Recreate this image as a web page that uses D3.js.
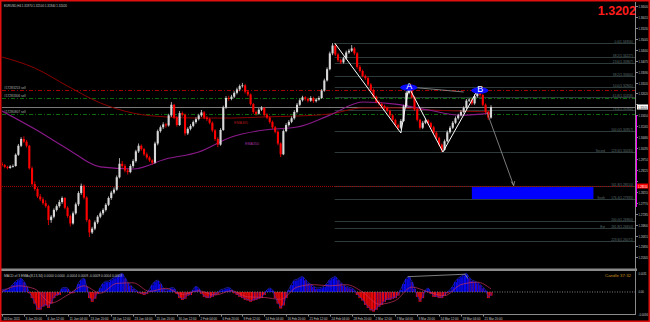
<!DOCTYPE html>
<html>
<head>
<meta charset="utf-8">
<script src="https://cdn.jsdelivr.net/npm/d3@7"></script>
<style>
body { margin: 0; background: #000; }
svg { display: block; }
text { font-family: "Liberation Sans", Arial, sans-serif; }
</style>
</head>
<body>
<svg width="650" height="322"></svg>
<script>
// EURUSD H4, 30 Dec 2011 - 21 Mar 2012. candles: [open, high, low, close] in pips above 1.2500
var BASE = 1.25;
var candles = [
 [450,458,438,444],[444,449,430,436],[436,441,425,431],[431,444,428,438],[438,447,433,440],
 [440,496,437,490],[490,538,485,530],[530,568,524,560],[560,572,542,548],[548,556,522,530],
 [530,534,424,430],[430,438,352,360],[360,372,330,338],[338,346,298,305],[305,316,284,292],
 [292,301,268,275],[275,288,255,262],[262,268,178,200],[200,222,188,215],[215,252,208,245],
 [245,270,238,262],[262,290,255,280],[280,305,272,298],[298,302,248,255],[255,262,210,218],
 [218,225,172,185],[185,238,180,230],[230,278,224,270],[270,328,262,320],[320,362,312,352],
 [352,358,292,300],[300,306,192,200],[200,205,125,145],[145,170,138,162],[162,198,155,190],
 [190,222,182,215],[215,238,208,230],[230,252,222,245],[245,275,238,268],[268,305,262,298],
 [298,330,290,322],[322,345,315,335],[335,398,330,390],[390,475,385,450],[450,462,432,440],
 [440,448,412,420],[420,428,402,413],[413,448,408,440],[440,470,432,462],[462,512,455,505],
 [505,540,498,530],[530,536,508,515],[515,520,485,492],[492,500,470,478],[478,485,458,465],
 [465,470,446,455],[455,548,450,540],[540,602,532,595],[595,620,588,612],[612,634,604,625],
 [625,632,610,620],[620,672,615,665],[665,724,658,712],[712,716,648,655],[655,662,615,622],
 [622,684,618,675],[675,682,660,668],[668,672,575,585],[585,612,578,605],[605,626,598,618],
 [618,642,612,635],[635,656,628,648],[648,672,642,665],[665,689,658,678],[678,684,648,655],
 [655,662,640,648],[648,654,625,632],[632,638,590,598],[598,604,552,560],[560,568,524,535],
 [535,608,530,600],[600,708,596,700],[700,750,694,742],[742,752,730,738],[738,756,732,748],
 [748,772,742,765],[765,788,758,780],[780,802,772,795],[795,809,788,798],[798,804,762,770],
 [770,776,750,758],[758,762,708,715],[715,720,672,680],[680,686,664,672],[672,698,668,690],
 [690,706,684,698],[698,702,660,668],[668,674,648,655],[655,660,628,636],[636,642,605,612],
 [612,618,585,592],[592,598,532,540],[540,545,480,492],[492,602,488,595],[595,630,590,622],
 [622,644,615,636],[636,660,630,652],[652,688,646,680],[680,720,674,712],[712,740,706,732],
 [732,752,726,745],[745,750,730,738],[738,744,722,730],[730,750,725,742],[742,748,720,728],
 [728,742,722,735],[735,750,730,742],[742,782,738,775],[775,828,770,820],[820,878,815,870],
 [870,948,865,940],[940,986,932,975],[975,980,928,935],[935,942,902,910],[910,916,892,900],
 [900,925,895,918],[918,952,912,944],[944,960,938,952],[952,977,946,962],[962,968,932,940],
 [940,946,872,880],[880,888,855,862],[862,868,834,840],[840,846,822,830],[830,836,795,802],
 [802,808,770,778],[778,784,740,748],[748,752,718,725],[725,732,708,715],[715,722,698,706],
 [706,712,690,698],[698,704,678,685],[685,690,658,665],[665,670,638,645],[645,650,615,622],
 [622,628,600,610],[610,648,604,640],[640,712,635,705],[705,772,700,765],[765,791,758,785],
 [785,790,738,745],[745,750,685,692],[692,698,638,645],[645,650,602,610],[610,640,604,632],
 [632,650,626,642],[642,648,622,630],[630,636,605,612],[612,618,580,588],[588,594,558,565],
 [565,570,528,535],[535,540,502,512],[512,558,508,550],[550,598,545,590],[590,618,584,610],
 [610,640,604,632],[632,660,626,652],[652,672,646,665],[665,688,660,680],[680,705,674,698],
 [698,738,692,730],[730,742,724,735],[735,740,710,718],[718,758,712,750],[750,791,744,778],
 [778,784,748,755],[755,760,705,712],[712,718,672,680],[680,686,644,655],[655,710,650,702]
];

// moving averages read every 12 candles: [candle index, pips above 1.2500]
var ema365 = [[0,924],[12,875],[24,795],[36,720],[48,675],[60,658],[72,653],[84,653],
  [96,658],[108,662],[120,671],[132,698],[144,698],[156,689],[168,684],[179,680]];
var ema350 = [[0,684],[12,604],[24,516],[36,436],[48,427],[60,471],[72,502],[84,569],
  [96,600],[108,613],[120,666],[132,724],[144,715],[156,689],[168,666],[179,675]];

// MACD histogram, one value per candle, in units of 0.0001
var macdHist = [
  2,3,3,6,11,16,19,21,16,8, -2,-10,-19,-29,-29,-24,-22,-26,-19,-10,
  -6,-5,5,6,5,-2,-2,3,13,19, 21,8,-10,-16,-11,-3,6,13,16,16,
  19,22,24,27,29,22,14,10,5,2, -2,-3,-5,-3,3,11,16,18,13,5,
  2,3,6,5,-3,-10,-13,-11,-6,-5, 3,8,5,-3,-8,-10,-10,-8,-5,-3,
  2,3,5,6,3,-2,-5,-8,-10,-13, -14,-16,-14,-13,-11,-10,-5,2,5,2,
  -10,-19,-27,-22,-10,3,11,18,19,22, 24,19,14,11,8,5,5,6,8,13,
  19,22,24,19,14,10,8,6,5,2, -5,-10,-14,-21,-26,-30,-32,-29,-24,-21,
  -16,-13,-13,-11,-10,-6,3,13,21,24, 16,5,-8,-16,-10,2,5,-3,-8,-8,
  -10,-10,-6,-2,2,8,16,21,24,27, 29,22,18,16,14,11,6,2,-10,-6
];
// signal line, every 6 candles
var macdSignal = [[0,1],[6,10],[12,5],[18,-18],[24,-5],[30,10],[36,-2],[42,14],[48,15],
  [54,1],[60,6],[66,-4],[72,2],[78,-5],[84,2],[90,-8],[96,-9],[102,-12],[108,8],[114,12],
  [120,10],[126,12],[132,0],[138,-20],[144,-14],[150,8],[156,0],[162,-6],[168,12],[174,16],[179,5]];
var macdDivergence = [[148.5,25],[169.5,29],[170.5,22]];

var priceTicks = [1.36500,1.36015,1.35530,1.35045,1.34560,1.34075,1.33590,1.33105,1.32620,
  1.32135,1.31650,1.31165,1.30680,1.30195,1.29710,1.29225,1.28740,1.28255,1.27770,1.27285,
  1.26800,1.26315,1.25830,1.25345];
var timeLabels = ["30 Dec 2011","3 Jan 20:00","6 Jan 12:00","11 Jan 04:00","13 Jan 20:00",
  "18 Jan 12:00","23 Jan 04:00","25 Jan 20:00","30 Jan 12:00","2 Feb 04:00","6 Feb 20:00",
  "9 Feb 12:00","14 Feb 04:00","16 Feb 20:00","21 Feb 12:00","24 Feb 04:00","28 Feb 20:00",
  "2 Mar 12:00","7 Mar 04:00","9 Mar 20:00","14 Mar 12:00","19 Mar 04:00","21 Mar 20:00"];
var macdTicks = [[31,"0.0031"],[0,"0.00"],[-36,"-0.0036"]];

// fibonacci levels drawn from the 29 Feb high: [text, price, tag]
var fibLevels = [
  ["0.0(1.34856)",1.34856,""],["38.2(1.34227)",1.34227,""],["23.6(1.33967)",1.33967,""],
  ["38.2(1.33400)",1.33400,""],["50.0(1.32905)",1.32905,""],["61.8(1.32458)",1.32458,""],
  ["76.4(1.31900)",1.31900,""],["100.0(1.30957)",1.30957,""],["123.6(1.30035)",1.30035,"Second"],
  ["161.8(1.28510)",1.28510,""],["176.4(1.27935)",1.27935,"South"],["200.0(1.26960)",1.26960,""],
  ["261.8(1.26650)",1.26650,"Ext"],["223.6(1.26072)",1.26072,""]
];
var fibStart = 121.8;
var orderLines = [["#17283253 sell",1.32775,"#a00000"],["#17283306 sell",1.32420,"#0b6b0b"],
  ["#17280807 sell",1.31710,"#0b6b0b"]];
var bid = 1.32020, target = 1.28510;
var zigzag = [[121.8,1.34856],[146,1.30866],[148.9,1.32908],[161.4,1.30022],[174.5,1.32864]];
var abLine = [[148.9,1.32908],[169,1.32686]];
var arrowLine = [[177.5,1.31798],[187.3,1.28530]];
var pointsAB = [["A",148.9,1.32908],["B",174.9,1.32775]];
var targetBox = [172, 216.5, 1.28510, 1.27935];
var rangeBar = [1.31665, 1.27580];
var headerText = "EURUSD,H4  1.31970 1.32100 1.31940 1.32020";
var macdText = "MACD of 3 EMAs(8,13,34) 0.0000 0.0000 -0.0004 0.0009 -0.0009 0.0004 0.0009";

var svg = d3.select("svg");
function pr(v) { return BASE + v / 10000; }
// tiny MT4-like label, squeezed to the width the reference shows
function tiny(sel, s, w) {
  return sel.attr("font-size", 4.3).attr("textLength", w || s.length * 1.55)
    .attr("lengthAdjust", "spacingAndGlyphs").text(s);
}

var x = d3.scaleLinear().domain([0, 179]).range([2, 491]);
var y = d3.scaleLinear().domain([1.24872, 1.36638]).range([268, 3]);
var ym = d3.scaleLinear().domain([-36, 31]).range([314, 273]);

svg.append("defs").append("clipPath").attr("id", "main")
  .append("rect").attr("x", 2).attr("y", 2).attr("width", 634).attr("height", 266);
svg.select("defs").append("clipPath").attr("id", "sub")
  .append("rect").attr("x", 2).attr("y", 272).attr("width", 634).attr("height", 42);

var g = svg.append("g").attr("clip-path", "url(#main)");

// fib levels
fibLevels.forEach(function(f) {
  var yy = Math.round(y(f[1])) + 0.5;
  g.append("line").attr("x1", x(fibStart)).attr("x2", 636).attr("y1", yy).attr("y2", yy)
    .attr("stroke", "#2c3a3a").attr("stroke-width", 1);
  tiny(g.append("text").attr("x", 633).attr("y", yy - 1).attr("text-anchor", "end")
    .attr("fill", "#5f7070"), f[0]);
  if (f[2]) tiny(g.append("text").attr("x", 605).attr("y", yy - 1).attr("text-anchor", "end")
    .attr("fill", "#5f7070"), f[2]);
});

// order lines
orderLines.forEach(function(o) {
  var yy = Math.round(y(o[1])) + 0.5;
  g.append("line").attr("x1", 2).attr("x2", 636).attr("y1", yy).attr("y2", yy)
    .attr("stroke", o[2]).attr("stroke-dasharray", "4,2,1,2");
  tiny(g.append("text").attr("x", 4).attr("y", yy - 1.5).attr("fill", "#b0b0b0"), o[0]);
});

// bid line and target line
g.append("line").attr("x1", 2).attr("x2", 636).attr("y1", Math.round(y(bid)) + 0.5)
  .attr("y2", Math.round(y(bid)) + 0.5).attr("stroke", "#7a7a7a");
g.append("line").attr("x1", 2).attr("x2", 636).attr("y1", Math.round(y(target)) + 0.5)
  .attr("y2", Math.round(y(target)) + 0.5).attr("stroke", "#a00000").attr("stroke-dasharray", "1,1");

// target box
g.append("rect").attr("x", x(targetBox[0])).attr("width", x(targetBox[1]) - x(targetBox[0]))
  .attr("y", y(targetBox[2]) + 1).attr("height", y(targetBox[3]) - y(targetBox[2]) - 1)
  .attr("fill", "#0000ff");

// moving averages
var maLine = d3.line().x(function(d) { return x(d[0]); }).y(function(d) { return y(pr(d[1])); })
  .curve(d3.curveMonotoneX);
g.append("path").attr("d", maLine(ema365)).attr("fill", "none").attr("stroke", "#8b0000").attr("stroke-width", 1);
g.append("path").attr("d", maLine(ema350)).attr("fill", "none").attr("stroke", "#8a1a8a").attr("stroke-width", 1.1);
tiny(g.append("text").attr("x", 234).attr("y", 124).attr("fill", "#b01818"), "EMA365", 14);
tiny(g.append("text").attr("x", 245).attr("y", 145).attr("fill", "#a030a0"), "EMA350", 14);

// candles
var cg = g.append("g");
cg.selectAll("line").data(candles).join("line")
  .attr("x1", function(d, i) { return x(i); }).attr("x2", function(d, i) { return x(i); })
  .attr("y1", function(d) { return y(pr(d[1])); }).attr("y2", function(d) { return y(pr(d[2])); })
  .attr("stroke", function(d) { return d[3] >= d[0] ? "#d8d8d8" : "#ff0000"; })
  .attr("stroke-width", 0.8);
cg.selectAll("rect").data(candles).join("rect")
  .attr("x", function(d, i) { return x(i) - 1.05; }).attr("width", 2.1)
  .attr("y", function(d) { return y(pr(Math.max(d[0], d[3]))); })
  .attr("height", function(d) { return Math.max(0.8, Math.abs(y(pr(d[0])) - y(pr(d[3])))); })
  .attr("fill", function(d) { return d[3] >= d[0] ? "#d8d8d8" : "#ff0000"; });

// zigzag and arrows
var pl = d3.line().x(function(d) { return x(d[0]); }).y(function(d) { return y(d[1]); });
g.append("path").attr("d", pl(abLine)).attr("fill", "none").attr("stroke", "#9a9a9a").attr("stroke-width", 0.8);
g.append("path").attr("d", pl(zigzag)).attr("fill", "none").attr("stroke", "#ffffff").attr("stroke-width", 1);
g.append("path").attr("d", pl(arrowLine)).attr("fill", "none").attr("stroke", "#9a9a9a").attr("stroke-width", 0.8);
var tip = arrowLine[1];
g.append("path").attr("d", "M" + (x(tip[0]) - 2.5) + "," + (y(tip[1]) - 4) + "L" + x(tip[0]) + "," + y(tip[1]) +
  "L" + (x(tip[0]) + 1) + "," + (y(tip[1]) - 4.5)).attr("fill", "none").attr("stroke", "#9a9a9a").attr("stroke-width", 0.8);
pointsAB.forEach(function(p) {
  g.append("ellipse").attr("cx", x(p[1])).attr("cy", y(p[2]) + 0.5).attr("rx", 8.5).attr("ry", 3.2).attr("fill", "#0a0aff");
  g.append("text").attr("x", x(p[1]) + 0.5).attr("y", y(p[2]) + 1.5).attr("text-anchor", "middle")
    .attr("font-size", 9).attr("fill", "#ffffff").text(p[0]);
});

// MACD pane
var sg = svg.append("g").attr("clip-path", "url(#sub)");
var slot = x(1) - x(0);
sg.selectAll("rect").data(macdHist).join("rect")
  .attr("x", function(d, i) { return x(i) - slot / 2; }).attr("width", slot + 0.1)
  .attr("y", function(d) { return Math.min(ym(0), ym(d)); })
  .attr("height", function(d) { return Math.abs(ym(d) - ym(0)); })
  .attr("fill", function(d) { return d >= 0 ? "#0a0aff" : "#ff0a0a"; });
sg.selectAll("line.bar").data(macdHist).join("line").attr("class", "bar")
  .attr("x1", function(d, i) { return x(i); }).attr("x2", function(d, i) { return x(i); })
  .attr("y1", ym(0)).attr("y2", function(d) { return ym(d); })
  .attr("stroke", function(d, i) { return i > 0 && d < macdHist[i - 1] ? "#7a0000" : "#00007a"; })
  .attr("stroke-width", 0.8);
sg.append("line").attr("x1", 2).attr("x2", 636).attr("y1", ym(0)).attr("y2", ym(0))
  .attr("stroke", "#808080").attr("stroke-dasharray", "1,1.5");
sg.append("path").attr("d", d3.line().x(function(d, i) { return x(i); }).y(function(d) { return ym(d) - 1; })(macdHist))
  .attr("fill", "none").attr("stroke", "#2828c8").attr("stroke-width", 0.7);
sg.append("path").attr("d", d3.line().x(function(d) { return x(d[0]); }).y(function(d) { return ym(d[1]); })
  .curve(d3.curveMonotoneX)(macdSignal)).attr("fill", "none").attr("stroke", "#c83060").attr("stroke-width", 0.7);
sg.append("path").attr("d", d3.line().x(function(d) { return x(d[0]); }).y(function(d) { return ym(d[1]); })(macdDivergence))
  .attr("fill", "none").attr("stroke", "#9a9a9a").attr("stroke-width", 0.8);
tiny(svg.append("text").attr("x", 4).attr("y", 276.5).attr("fill", "#c0c0c0"), macdText, 118);
tiny(svg.append("text").attr("x", 605).attr("y", 276.5).attr("fill", "#c8901e"), "Candle   37:32", 26);

// frames and separators
svg.append("rect").attr("x", 0).attr("y", 268.5).attr("width", 637).attr("height", 2.5).attr("fill", "#8a8a8a");
svg.append("line").attr("x1", 635.5).attr("x2", 635.5).attr("y1", 2).attr("y2", 315).attr("stroke", "#8a8a8a");
svg.append("line").attr("x1", 0).attr("x2", 636).attr("y1", 314.5).attr("y2", 314.5).attr("stroke", "#8a8a8a");

// price axis (ticks hidden where the bid / target boxes sit)
priceTicks.forEach(function(p) {
  var yy = Math.round(y(p)) + 0.5;
  svg.append("line").attr("x1", 636).attr("x2", 638).attr("y1", yy).attr("y2", yy).attr("stroke", "#8a8a8a");
  if (Math.abs(yy - y(bid)) < 5 || Math.abs(yy - y(target)) < 5) return;
  tiny(svg.append("text").attr("x", 638.5).attr("y", yy + 1.5).attr("fill", "#c8c8c8"), p.toFixed(5), 9.5);
});
svg.append("line").attr("x1", 636.5).attr("x2", 636.5).attr("y1", y(rangeBar[0])).attr("y2", y(rangeBar[1]))
  .attr("stroke", "#ff00ff").attr("stroke-width", 1);
[[bid, "#ffffff", "#000000"], [target, "#ff0000", "#ffffff"]].forEach(function(b) {
  var yy = y(b[0]);
  svg.append("rect").attr("x", 637).attr("y", yy - 2.5).attr("width", 11).attr("height", 5).attr("fill", b[1]);
  tiny(svg.append("text").attr("x", 638).attr("y", yy + 1.5).attr("fill", b[2]), b[0].toFixed(5), 9.5);
});
macdTicks.forEach(function(t) {
  tiny(svg.append("text").attr("x", 638.5).attr("y", ym(t[0]) + 1.5).attr("fill", "#c8c8c8"), t[1], t[1].length * 1.35);
});

// time axis
timeLabels.forEach(function(t, k) {
  var xx = Math.round(x(k * 8)) + 0.5;
  svg.append("line").attr("x1", xx).attr("x2", xx).attr("y1", 314).attr("y2", 316.5).attr("stroke", "#8a8a8a");
  tiny(svg.append("text").attr("x", xx + 1).attr("y", 319.5).attr("fill", "#c8c8c8"), t, t.length * 1.5);
});

// header texts
tiny(svg.append("text").attr("x", 4).attr("y", 6.5).attr("fill", "#c8c8c8"), headerText, 63);
svg.append("text").attr("x", 636).attr("y", 14.5).attr("text-anchor", "end").attr("font-size", 12.5)
  .attr("font-weight", "bold").attr("fill", "#ff1c1c").text(bid.toFixed(4));

// window border
svg.append("rect").attr("x", 0.75).attr("y", 0.75).attr("width", 648.5).attr("height", 320.5)
  .attr("fill", "none").attr("stroke", "#e01010").attr("stroke-width", 1.5);
</script>
</body>
</html>
